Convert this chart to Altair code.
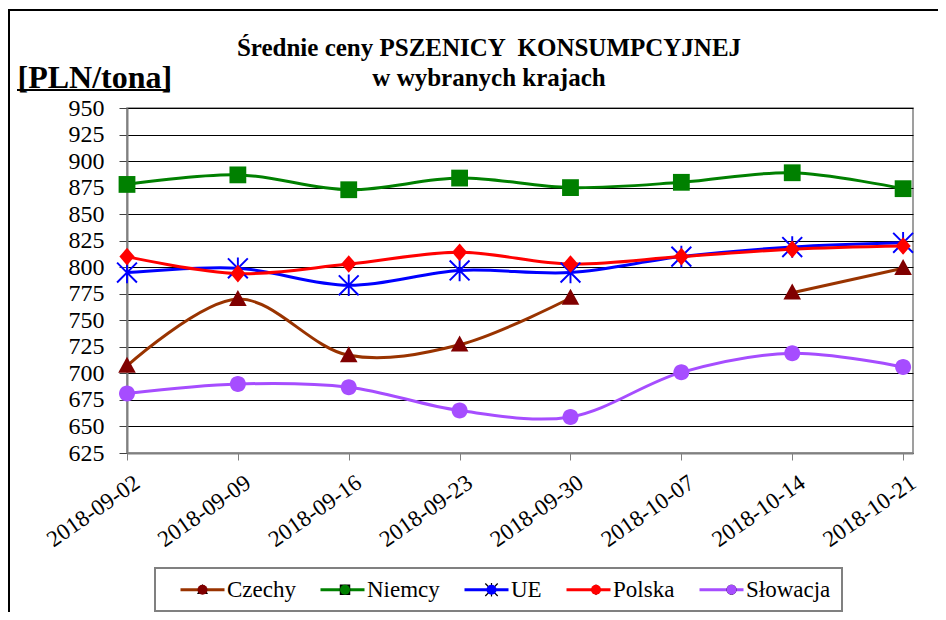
import altair as alt
import pandas as pd

# ---- data ----
dates = ["2018-09-02", "2018-09-09", "2018-09-16", "2018-09-23",
         "2018-09-30", "2018-10-07", "2018-10-14", "2018-10-21"]
series = ["Czechy", "Niemcy", "UE", "Polska", "Słowacja"]
czechy = [707, 770, 717, 727, 771, None, 776, 799]
niemcy = [878, 887, 873, 884, 875, 880, 889, 874]
ue = [795, 799, 783, 797, 795, 810, 819, 823]
polska = [810, 794, 803, 814, 803, 810, 817, 820]
slowacja = [681, 690, 687, 665, 659, 701, 719, 706]
y_ticks = [625, 650, 675, 700, 725, 750, 775, 800, 825, 850, 875, 900, 925, 950]

title_lines = ["Średnie ceny PSZENICY \u00a0KONSUMPCYJNEJ", "w wybranych krajach"]
unit_label = "[PLN/tona]"

# ---- styles ----
line_colors = ["#993300", "#008000", "#0000FF", "#FF0000", "#A64DFF"]
marker_colors = ["#800000", "#008000", "#0000FF", "#FF0000", "#A64DFF"]
triangle = "M 0 -1.15 L 1.1 0.85 L -1.1 0.85 Z"
square = "M -1.05 -1.05 L 1.05 -1.05 L 1.05 1.05 L -1.05 1.05 Z"
asterisk = ("M -0.12 -1.35 L -0.12 1.35 L 0.12 1.35 L 0.12 -1.35 Z "
            "M 1.154 1.327 L 1.327 1.154 L -1.154 -1.327 L -1.327 -1.154 Z "
            "M 1.327 -1.154 L 1.154 -1.327 L -1.327 1.154 L -1.154 1.327 Z")
diamond = "M 0 -1.1 L 0.95 0 L 0 1.1 L -0.95 0 Z"
circle = "M -1 0 A 1 1 0 1 1 1 0 A 1 1 0 1 1 -1 0 Z"
shapes = [triangle, square, asterisk, diamond, circle]
FONT = "Liberation Serif, Times New Roman, DejaVu Serif, serif"

values = {"Czechy": czechy, "Niemcy": niemcy, "UE": ue, "Polska": polska, "Słowacja": slowacja}
rows = []
for s in series:
    seg = 0
    for d, v in zip(dates, values[s]):
        if v is None:
            seg += 1
            continue
        rows.append({"date": d, "value": v, "series": s, "series_m": s, "seg": f"{s}-{seg}"})
df = pd.DataFrame(rows)


def dt(s, hours=0):
    y, m, d = (int(p) for p in s.split("-"))
    return alt.DateTime(year=y, month=m, date=d, hours=hours, utc=True)


x_enc = alt.X(
    "date:T",
    scale=alt.Scale(type="utc", domain=[dt(dates[0]), dt(dates[-1], hours=15)]),
    axis=alt.Axis(values=[dt(d) for d in dates], format="%Y-%m-%d", labelAngle=-35,
                  labelAlign="right", labelBaseline="middle", labelPadding=20, labelOffset=10,
                  labelFont=FONT, labelFontSize=23, labelColor="black",
                  tickSize=7, tickColor="#808080", domainColor="#808080", domainWidth=2,
                  grid=False, labelOverlap=False, labelBound=False, labelFlush=False),
    title=None,
)
y_enc = alt.Y(
    "value:Q",
    scale=alt.Scale(domain=[625, 950], nice=False, zero=False),
    axis=alt.Axis(values=y_ticks, labelFont=FONT, labelFontSize=24, labelColor="black",
                  labelPadding=15, tickSize=8, tickColor="#404040", domainColor="#808080",
                  domainWidth=2, grid=True, gridColor="black", gridWidth=1,
                  title=unit_label, titleAngle=0, titleAlign="left", titleBaseline="alphabetic",
                  titleX=-110, titleY=-21, titleFont=FONT, titleFontSize=32,
                  titleFontWeight="bold", titleColor="black"),
)

legend_common = dict(title=None, orient="none", legendX=64, legendY=470, direction="horizontal",
                     columns=5, padding=0, labelFont=FONT, labelFontSize=23,
                     labelColor="black", symbolSize=100)

base = alt.Chart(df)

lines = base.mark_line(interpolate="catmull-rom", strokeWidth=3).encode(
    x=x_enc, y=y_enc,
    stroke=alt.Stroke("series:N", scale=alt.Scale(domain=series, range=line_colors),
                      legend=alt.Legend(symbolType="M -4.4 0 L 4.4 0", symbolStrokeWidth=3,
                                        labelOffset=13, columnPadding=18, **legend_common)),
    detail="seg:N",
)

shape_legend = dict(labelOpacity=0, symbolStrokeWidth=0, labelOffset=15, columnPadding=35.5,
                    **legend_common)
points = base.mark_point(filled=True, size=256, opacity=1, strokeWidth=0).encode(
    x=x_enc, y=y_enc,
    fill=alt.Fill("series_m:N", sort=series, scale=alt.Scale(range=marker_colors),
                  legend=alt.Legend(**shape_legend)),
    shape=alt.Shape("series_m:N", sort=series, scale=alt.Scale(range=shapes),
                    legend=alt.Legend(**shape_legend)),
)

one = pd.DataFrame({"k": [0]})
frame = alt.Chart(one).mark_rect(fillOpacity=0, stroke="black", strokeWidth=2).encode(
    x=alt.value(-118), x2=alt.value(840), y=alt.value(-98), y2=alt.value(540))
legend_box = alt.Chart(one).mark_rect(fillOpacity=0, stroke="#808080", strokeWidth=2).encode(
    x=alt.value(28), x2=alt.value(715), y=alt.value(460), y2=alt.value(503))
underline = alt.Chart(one).mark_rule(stroke="black", strokeWidth=2).encode(
    x=alt.value(-110), x2=alt.value(43), y=alt.value(-18))

chart = alt.layer(frame, legend_box, underline, lines, points).properties(
    width=786, height=345,
    padding={"left": 119, "top": 100, "right": 25, "bottom": 159},
    autosize=alt.AutoSizeParams(type="none"),
    title=alt.Title(title_lines, font=FONT, fontSize=25, fontWeight="bold", color="black",
                    anchor="middle", dx=-31, offset=-82, lineHeight=30),
    background="white",
).configure_view(stroke="#808080", strokeWidth=1.5)

chart.save("out.html", embed_options={"renderer": "svg", "actions": False})
